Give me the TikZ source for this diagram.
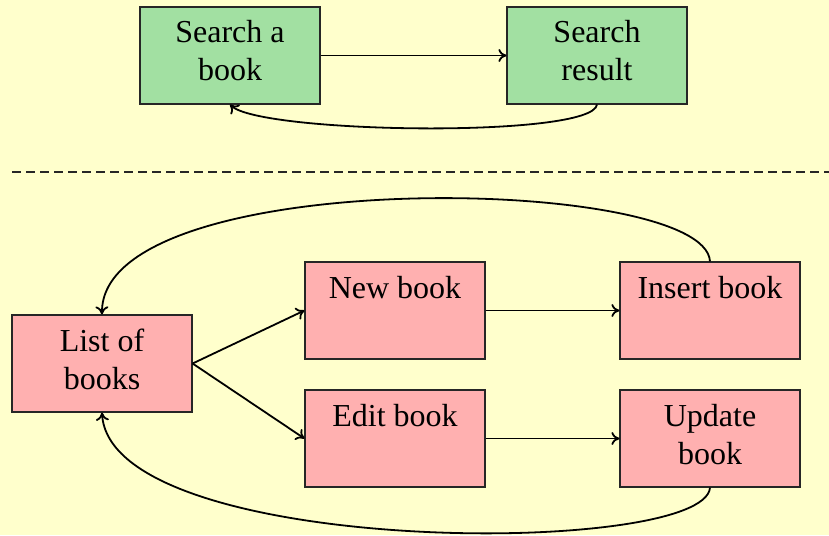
\documentclass[tikz,border=0pt]{standalone}
\usepackage{fontspec}
\setmainfont{Liberation Serif}
\usetikzlibrary{arrows.meta}
\definecolor{bg}{HTML}{FFFFCC}
\definecolor{gfill}{HTML}{A2E0A2}
\definecolor{pfill}{HTML}{FFB0B0}
\newcommand{\bxtext}[1]{\parbox[c][97pt][t]{180pt}{\centering\rule{0pt}{36pt}#1}}
\tikzset{
  boxbase/.style={draw=black!85, line width=1.2pt, inner sep=0pt, font=\fontsize{32}{38}\selectfont},
  gbox/.style={boxbase, fill=gfill},
  pbox/.style={boxbase, fill=pfill},
  conn/.style={line width=1.8pt, -{To[length=8pt,width=13pt]}}
}
\begin{document}
\begin{tikzpicture}[x=1pt,y=-1pt]
\fill[bg] (0,0) rectangle (829,535);
\useasboundingbox (0,0) rectangle (829,535);
\node[gbox] (sa) at (230,55.5) {\bxtext{Search a\\book}};
\node[gbox] (sr) at (597,55.5) {\bxtext{Search\\result}};
\draw[conn] (sa.east) -- (sr.west);
\draw[conn] (sr.south) .. controls +(-5,34) and +(30,29) .. (sa.south);
\coordinate (dl) at (12,172);
\coordinate (dr) at (829,172);
\draw[line width=1.5pt, dash pattern=on 9pt off 5pt, black!85] (dl) -- (dr);
\node[pbox] (lb) at (102,363.5) {\bxtext{List of\\books}};
\node[pbox] (nb) at (395,310.5) {\bxtext{New book}};
\node[pbox] (ib) at (710,310.5) {\bxtext{Insert book}};
\node[pbox] (eb) at (395,438.5) {\bxtext{Edit book}};
\node[pbox] (ub) at (710,438.5) {\bxtext{Update\\book}};
\draw[conn] (lb.east) -- (nb.west);
\draw[conn] (lb.east) -- (eb.west);
\draw[conn] (nb.east) -- (ib.west);
\draw[conn] (eb.east) -- (ub.west);
\draw[conn] (ib.north) .. controls +(-5,-87) and +(-2,-150) .. (lb.north);
\draw[conn] (ub.south) .. controls +(-5,70) and +(8,145) .. (lb.south);
\end{tikzpicture}
\end{document}
